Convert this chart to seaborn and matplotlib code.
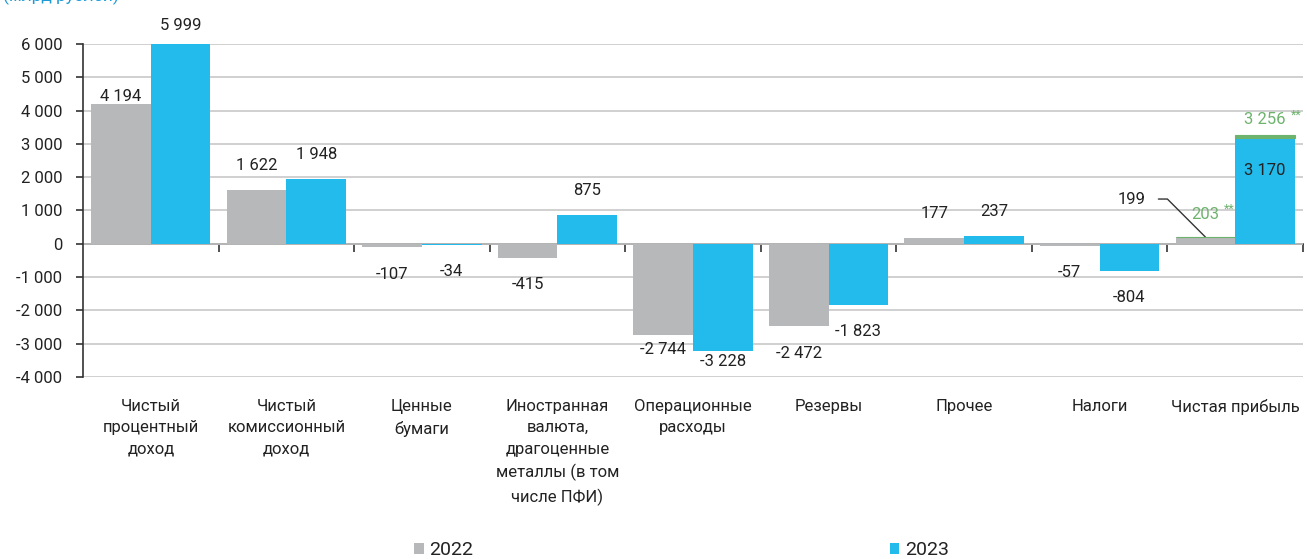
import numpy as np
import pandas as pd
import matplotlib
matplotlib.use("Agg")
import matplotlib.pyplot as plt
import matplotlib.ticker as mticker
from matplotlib.patches import Patch
import seaborn as sns

categories = ["Чистый\nпроцентный\nдоход", "Чистый\nкомиссионный\nдоход", "Ценные\nбумаги",
              "Иностранная\nвалюта,\nдрагоценные\nметаллы (в том\nчисле ПФИ)",
              "Операционные\nрасходы", "Резервы", "Прочее", "Налоги", "Чистая прибыль"]
years = ["2022", "2023"]
values_2022 = [4194, 1622, -107, -415, -2744, -2472, 177, -57, 199]
values_2023 = [5999, 1948, -34, 875, -3228, -1823, 237, -804, 3170]
adjusted_profit = [203, 3256]  # ** скорректированная чистая прибыль
yticks = [-4000, -3000, -2000, -1000, 0, 1000, 2000, 3000, 4000, 5000, 6000]
title = "(млрд рублей)"

GREY = "#B7B8BA"
BLUE = "#22BBEC"
GREEN = "#6DB36D"
TXT = "#222222"
FS = 12

sns.set_theme(style="white")
plt.rcParams["font.family"] = ["Roboto", "DejaVu Sans"]

df = pd.DataFrame({
    "cat": categories * 2,
    "year": [years[0]] * len(categories) + [years[1]] * len(categories),
    "value": values_2022 + values_2023,
})

fig = plt.figure(figsize=(13.07, 5.59), dpi=100)
ax = fig.add_axes([83 / 1307, 1 - 377 / 559, (1303 - 83) / 1307, (377 - 44) / 559])

sns.barplot(data=df, x="cat", y="value", hue="year", palette=[GREY, BLUE],
            width=0.88, saturation=1, ax=ax, legend=False, errorbar=None,
            edgecolor="none", linewidth=0, zorder=3)

ax.set_ylim(yticks[0], yticks[-1])
ax.set_xlim(-0.5, len(categories) - 0.5)
ax.set_yticks(yticks)
ax.yaxis.set_major_formatter(mticker.FuncFormatter(lambda v, p: f"{int(v):,}".replace(",", " ")))
ax.grid(axis="y", color="#C8C8C8", linewidth=1.2, zorder=0)
ax.set_axisbelow(True)
for s in ["top", "right", "bottom"]:
    ax.spines[s].set_visible(False)
ax.spines["left"].set_color("#333333")
ax.spines["left"].set_linewidth(1.2)
ax.tick_params(axis="y", direction="out", length=5, width=1.2, color="#333333",
               pad=10, labelsize=FS, labelcolor=TXT, left=True)
ax.tick_params(axis="x", length=0, pad=15.5, labelsize=FS, labelcolor=TXT)
ax.set_xlabel("")
ax.set_ylabel("")
for lab in ax.get_xticklabels():
    lab.set_linespacing(1.55)
    lab.set_va("top")

# zero axis with boundary ticks
sec = ax.secondary_xaxis(0.4)
sec.set_xticks(np.arange(len(categories)) + 0.5)
sec.set_xticklabels([])
sec.spines["bottom"].set_color("#333333")
sec.spines["bottom"].set_linewidth(1.2)
sec.tick_params(axis="x", direction="out", length=6, width=1.2, color="#333333")

c22, c23 = ax.containers[0], ax.containers[1]

# green caps for adjusted profit
last22, last23 = c22.patches[-1], c23.patches[-1]
for bar, base, adj in [(last22, values_2022[-1], adjusted_profit[0]),
                       (last23, values_2023[-1], adjusted_profit[1])]:
    ax.bar(bar.get_x() + bar.get_width() / 2, adj - base, bottom=base,
           width=bar.get_width(), color=GREEN, edgecolor=GREEN, linewidth=0.8, zorder=4)

def fmt(v):
    s = f"{abs(v):,}".replace(",", " ")
    return ("-" if v < 0 else "") + s

offsets = {4194: 8, 5999: 19, -2744: 14, -3228: 10}
for cont, vals in [(c22, values_2022), (c23, values_2023)]:
    for i, (bar, v) in enumerate(zip(cont.patches, vals)):
        if i == len(vals) - 1:
            continue
        xc = bar.get_x() + bar.get_width() / 2
        off = offsets.get(v, 24 if v >= 0 else 27)
        ax.annotate(fmt(v), xy=(xc, v), xytext=(0, off if v >= 0 else -off),
                    textcoords="offset pixels", ha="center", va="center",
                    fontsize=FS, color=TXT, zorder=6)

# net profit labels
x22 = last22.get_x() + last22.get_width() / 2
x23 = last23.get_x() + last23.get_width() / 2
ax.annotate(fmt(values_2022[-1]), xy=(x22, adjusted_profit[0]), xytext=(-60, 38),
            textcoords="offset pixels", ha="right", va="center", fontsize=FS, color=TXT,
            arrowprops=dict(arrowstyle="-", color="#333333", lw=1,
                            connectionstyle="angle,angleA=0,angleB=135,rad=0",
                            relpos=(1, 0.5), shrinkA=7, shrinkB=0))
ax.annotate(fmt(adjusted_profit[0]), xy=(x22, adjusted_profit[0]), xytext=(0, 23),
            textcoords="offset pixels", ha="center", va="center", fontsize=FS, color=GREEN)
ax.annotate("**", xy=(x22, adjusted_profit[0]), xytext=(18, 28),
            textcoords="offset pixels", ha="left", va="center", fontsize=9, color=GREEN)
ax.annotate(fmt(adjusted_profit[1]), xy=(x23, adjusted_profit[1]), xytext=(0, 16),
            textcoords="offset pixels", ha="center", va="center", fontsize=FS, color=GREEN)
ax.annotate("**", xy=(x23, adjusted_profit[1]), xytext=(26, 20),
            textcoords="offset pixels", ha="left", va="center", fontsize=9, color=GREEN)
ax.annotate(fmt(values_2023[-1]), xy=(x23, adjusted_profit[1]), xytext=(0, -35),
            textcoords="offset pixels", ha="center", va="center", fontsize=FS, color=TXT)

# legend
handles = [Patch(facecolor=GREY, edgecolor="none"), Patch(facecolor=BLUE, edgecolor="none")]
fig.legend(handles, years, loc="center", bbox_to_anchor=(0.5214, 0.016), ncol=2,
           frameon=False, fontsize=14, handlelength=0.5, handleheight=0.5,
           handletextpad=0.3, columnspacing=21.4, labelcolor=TXT)

fig.text(0.002, 1 - 1.5 / 559, title, ha="left", va="baseline", fontsize=12.5, color="#1E9BD7")

fig.savefig("out.png", dpi=100)
